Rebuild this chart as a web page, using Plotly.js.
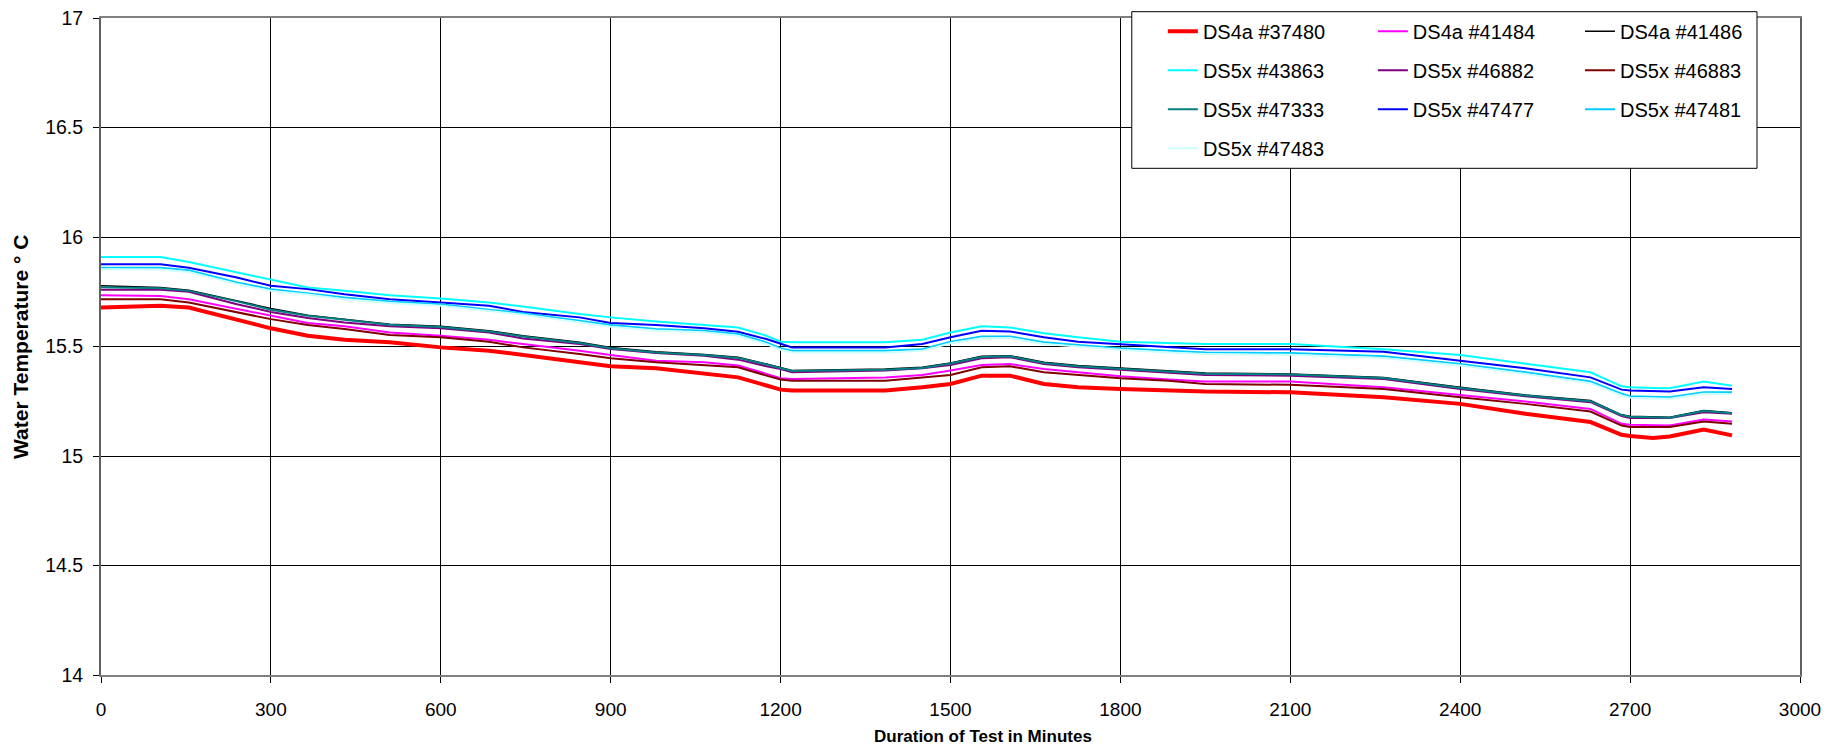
<!DOCTYPE html>
<html>
<head>
<meta charset="utf-8">
<script src="https://cdn.plot.ly/plotly-3.0.1.min.js"></script>
<style>html,body{margin:0;padding:0;background:#fff;}#chart{width:1829px;height:755px;}</style>
</head>
<body>
<div id="chart"></div>
<script>
// Duration of test (minutes)
const minutes = [0,105,155,240,300,365,430,510,600,685,745,845,900,980,1065,1125,1175,1200,1220,1385,1450,1500,1555,1605,1665,1725,1800,1885,1950,2100,2265,2400,2515,2630,2685,2700,2740,2770,2830,2880];

const ds4a_37480 = [15.678,15.686,15.678,15.625,15.583,15.549,15.531,15.519,15.496,15.481,15.461,15.431,15.410,15.401,15.375,15.359,15.322,15.303,15.299,15.299,15.314,15.329,15.367,15.367,15.329,15.314,15.306,15.299,15.294,15.291,15.268,15.238,15.193,15.155,15.097,15.091,15.082,15.089,15.121,15.094];
const ds4a_41484 = [15.734,15.731,15.716,15.671,15.640,15.607,15.592,15.564,15.549,15.531,15.511,15.481,15.461,15.435,15.428,15.413,15.375,15.355,15.352,15.359,15.370,15.390,15.416,15.420,15.397,15.382,15.364,15.349,15.340,15.340,15.314,15.279,15.249,15.215,15.147,15.143,15.139,15.139,15.167,15.158];
const ds4a_41486 = [15.777,15.769,15.757,15.709,15.674,15.643,15.625,15.602,15.592,15.572,15.549,15.519,15.496,15.476,15.464,15.451,15.420,15.405,15.390,15.397,15.405,15.425,15.455,15.458,15.428,15.413,15.401,15.390,15.379,15.375,15.359,15.314,15.279,15.253,15.188,15.182,15.179,15.177,15.208,15.197];
const ds5x_43863 = [15.909,15.909,15.886,15.838,15.803,15.769,15.754,15.734,15.719,15.701,15.683,15.648,15.633,15.614,15.598,15.587,15.549,15.522,15.519,15.519,15.531,15.564,15.592,15.587,15.561,15.542,15.522,15.516,15.511,15.511,15.488,15.461,15.420,15.382,15.318,15.314,15.311,15.309,15.340,15.321];
const ds5x_46882 = [15.759,15.759,15.750,15.693,15.658,15.630,15.610,15.592,15.583,15.564,15.537,15.511,15.488,15.470,15.458,15.440,15.410,15.397,15.382,15.390,15.401,15.416,15.446,15.451,15.420,15.405,15.394,15.379,15.370,15.367,15.352,15.306,15.273,15.246,15.182,15.173,15.173,15.173,15.200,15.193];
const ds5x_46883 = [15.716,15.716,15.701,15.655,15.625,15.598,15.580,15.552,15.542,15.522,15.496,15.466,15.446,15.428,15.416,15.405,15.367,15.349,15.344,15.344,15.359,15.370,15.405,15.410,15.382,15.370,15.355,15.344,15.329,15.325,15.306,15.268,15.238,15.203,15.139,15.132,15.132,15.132,15.158,15.147];
const ds5x_47333 = [15.770,15.766,15.754,15.706,15.668,15.640,15.622,15.599,15.589,15.569,15.546,15.516,15.492,15.473,15.461,15.448,15.418,15.402,15.388,15.394,15.402,15.422,15.452,15.455,15.425,15.410,15.398,15.386,15.376,15.372,15.356,15.311,15.276,15.250,15.186,15.179,15.176,15.175,15.205,15.195];
const ds5x_47477 = [15.876,15.876,15.860,15.815,15.777,15.762,15.739,15.716,15.701,15.686,15.658,15.633,15.607,15.598,15.583,15.567,15.534,15.511,15.496,15.496,15.511,15.542,15.572,15.569,15.542,15.522,15.511,15.496,15.488,15.488,15.476,15.435,15.401,15.359,15.303,15.299,15.296,15.294,15.314,15.306];
const ds5x_47481 = [15.860,15.860,15.848,15.792,15.762,15.744,15.724,15.706,15.693,15.668,15.652,15.618,15.598,15.580,15.572,15.557,15.519,15.492,15.481,15.481,15.488,15.522,15.546,15.546,15.519,15.507,15.492,15.481,15.473,15.470,15.455,15.420,15.382,15.340,15.284,15.273,15.270,15.268,15.291,15.291];
const ds5x_47483 = [15.853,15.852,15.840,15.785,15.754,15.737,15.716,15.699,15.686,15.660,15.645,15.611,15.590,15.573,15.565,15.549,15.511,15.485,15.474,15.473,15.480,15.515,15.538,15.539,15.511,15.500,15.485,15.473,15.466,15.462,15.447,15.413,15.375,15.332,15.277,15.266,15.262,15.261,15.284,15.283];

const seriesNames = ["DS4a #37480","DS4a #41484","DS4a #41486","DS5x #43863","DS5x #46882","DS5x #46883","DS5x #47333","DS5x #47477","DS5x #47481","DS5x #47483"];
const seriesValues = [ds4a_37480,ds4a_41484,ds4a_41486,ds5x_43863,ds5x_46882,ds5x_46883,ds5x_47333,ds5x_47477,ds5x_47481,ds5x_47483];
const seriesColors = ["#FF0000","#FF00FF","#000000","#00FFFF","#800080","#800000","#008080","#0000FF","#00CCFF","#CCFFFF"];
const seriesWidths = [4,2,1.5,2,2,2,2,2,2,2];
const seriesLegend = ["legend","legend2","legend3","legend","legend2","legend3","legend","legend2","legend3","legend"];

const xTicks = [0,300,600,900,1200,1500,1800,2100,2400,2700,3000];
const yTicks = [14,14.5,15,15.5,16,16.5,17];

const FONT = "Liberation Sans, Arial, Helvetica, sans-serif";

const traces = seriesNames.map((n,i) => ({
  type: "scatter", mode: "lines", name: n,
  x: minutes, y: seriesValues[i],
  line: {color: seriesColors[i], width: seriesWidths[i]},
  legend: seriesLegend[i], legendgroup: "g"+i,
  hoverinfo: "x+y+name"
}));

const legBase = {yanchor: "top", xanchor: "left", y: 1.0096, bgcolor: "rgba(0,0,0,0)", borderwidth: 0,
  font: {family: FONT, size: 20, color: "#000"}, tracegroupgap: 10, orientation: "v"};

const layout = {
  width: 1829, height: 755,
  margin: {l: 101, r: 29, t: 16, b: 80, pad: 0},
  paper_bgcolor: "#fff", plot_bgcolor: "#fff",
  font: {family: FONT, color: "#000"},
  showlegend: true,
  legend: Object.assign({}, legBase, {x: 0.625}),
  legend2: Object.assign({}, legBase, {x: 0.7486}),
  legend3: Object.assign({}, legBase, {x: 0.8705}),
  xaxis: {
    range: [0, 3000], tickmode: "array", tickvals: xTicks, ticktext: xTicks.map(String),
    ticks: "outside", ticklen: 6, tickcolor: "#000", tickwidth: 1,
    showgrid: true, gridcolor: "#000", gridwidth: 1, zeroline: false,
    showline: true, linecolor: "#808080", linewidth: 2, mirror: true,
    tickfont: {family: FONT, size: 19, color: "#000"}, ticklabelstandoff: 10
  },
  yaxis: {
    range: [14, 17], tickmode: "array", tickvals: yTicks, ticktext: yTicks.map(String),
    ticks: "outside", ticklen: 6, tickcolor: "#000", tickwidth: 1,
    showgrid: true, gridcolor: "#000", gridwidth: 1, zeroline: false,
    showline: true, linecolor: "#606060", linewidth: 2, mirror: true,
    tickfont: {family: FONT, size: 19.5, color: "#000"}, ticklabelstandoff: 6
  },
  shapes: [
    {type: "rect", xref: "paper", yref: "paper", x0: 0.6067, x1: 0.9747, y0: 0.7712, y1: 1.0096,
     fillcolor: "#fff", line: {color: "#000", width: 1}, layer: "above"}
  ],
  annotations: [
    {text: "<b>Water Temperature ° C</b>", xref: "paper", yref: "paper", x: -0.0474, y: 0.5,
     xanchor: "center", yanchor: "middle", textangle: -90, showarrow: false,
     font: {family: FONT, size: 21, color: "#000"}},
    {text: "<b>Duration of Test in Minutes</b>", xref: "paper", yref: "paper", x: 0.519, y: -0.0941,
     xanchor: "center", yanchor: "middle", showarrow: false,
     font: {family: FONT, size: 17, color: "#000"}}
  ]
};

Plotly.newPlot("chart", traces, layout, {displayModeBar: false, staticPlot: true});
</script>
</body>
</html>
